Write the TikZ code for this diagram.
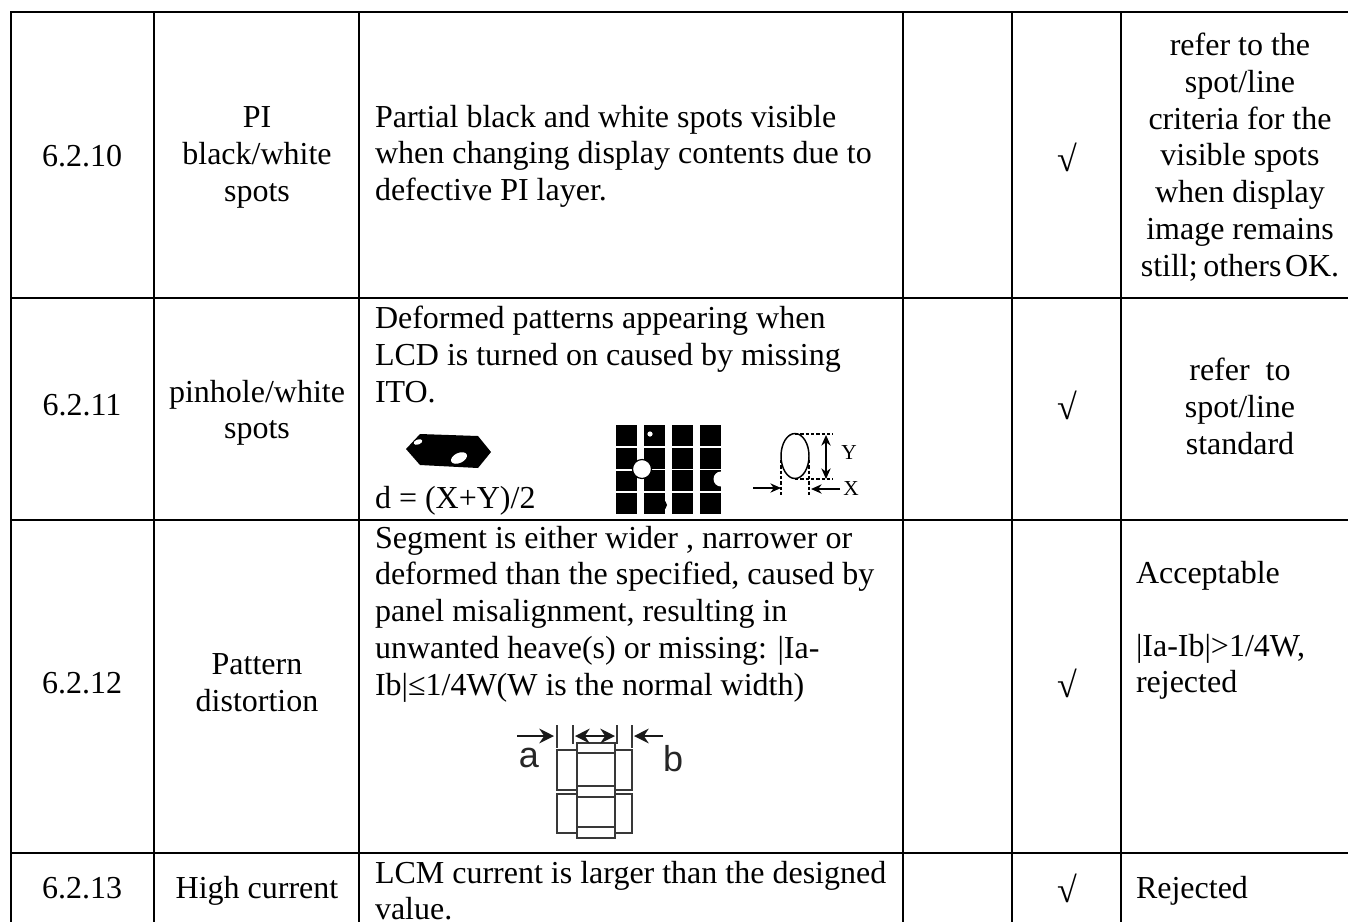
\documentclass[tikz,border=0pt]{standalone}
\usepackage{fontspec}
\setmainfont{Liberation Serif}
\newfontfamily\figsans{Liberation Sans}
\usetikzlibrary{arrows.meta}
\tikzset{
  rule/.style={line width=1.5pt,black},
  celltext/.style={inner sep=0pt,outer sep=0pt,font=\fontsize{24}{27.56}\selectfont,
    execute at begin node={\rule{0pt}{18pt}}},
  lefttext/.style={celltext,anchor=north west,align=left},
  midtext/.style={celltext,anchor=north,align=center},
  checkmark/.style={midtext,font=\fontsize{27}{27.56}\selectfont},
  figlabel/.style={inner sep=0pt,font=\fontsize{16}{18}\selectfont},
  seglabel/.style={inner sep=0pt,font=\figsans\fontsize{27}{28}\selectfont,black!85},
  segline/.style={line width=2.2pt,black!78},
  dimline/.style={line width=0.8pt,dashed,dash pattern=on 2.5pt off 1.5pt},
  dimarrow/.style={line width=0.9pt,-{Stealth[length=8pt,width=7pt]}},
  dimboth/.style={line width=0.9pt,{Stealth[length=8pt,width=7pt]}-{Stealth[length=8pt,width=7pt]}},
  segarrow/.style={line width=1.6pt,black!90,-{Stealth[length=11pt,width=11pt]}}
}
\begin{document}
\begin{tikzpicture}[x=0.75pt,y=-0.75pt]
\useasboundingbox (0,0) rectangle (1348,922);
% table rules
\draw[rule] (11,12) -- (1348,12);
\draw[rule] (11,298) -- (1348,298);
\draw[rule] (11,520) -- (1348,520);
\draw[rule] (11,853) -- (1348,853);
\foreach \vx in {11,154,359,903,1012,1121} \draw[rule] (\vx,11) -- (\vx,922);
% row 6.2.10
\node[midtext] (num10) at (82,142) {6.2.10};
\node[midtext] (name10) at (257,107) {PI\\black/white\\spots};
\node[lefttext] (desc10) at (375,105) {Partial black and white spots visible\\when changing display contents due to\\defective PI layer.};
\node[checkmark] (chk10) at (1067,143) {√};
\node[midtext] (std10) at (1240,33) {refer to the\\spot/line\\criteria for the\\visible spots\\when display\\image remains\\still;\hspace{4.2pt}others\hspace{2.6pt}OK.};
% row 6.2.11
\node[midtext] (num11) at (82,391) {6.2.11};
\node[midtext] (name11) at (257,380) {pinhole/white\\spots};
\node[lefttext] (desc11) at (375,306) {Deformed patterns appearing when\\LCD is turned on caused by missing\\ITO.};
\node[lefttext] (formula) at (375,484) {d = (X+Y)/2};
\node[checkmark] (chk11) at (1067,391) {√};
\node[midtext] (std11) at (1240,358) {refer\ \ to\\spot/line\\standard};
% row 6.2.12
\node[midtext] (num12) at (82,669) {6.2.12};
\node[midtext] (name12) at (257,654) {Pattern\\distortion};
\node[lefttext] (desc12) at (375,526) {Segment is either wider , narrower or\\deformed than the specified, caused by\\panel misalignment, resulting in\\unwanted heave(s) or missing: |Ia-\\Ib|≤1/4W(W is the normal width)};
\node[checkmark] (chk12) at (1067,669) {√};
\node[lefttext] (acc) at (1136,559) {Acceptable};
\node[lefttext] (rej12) at (1136,634) {|Ia-Ib|>1/4W,\\rejected};
% row 6.2.13
\node[midtext] (num13) at (82,874) {6.2.13};
\node[midtext] (name13) at (257,874) {High current};
\node[lefttext] (desc13) at (375,861) {LCM current is larger than the designed\\value.};
\node[checkmark] (chk13) at (1067,874) {√};
\node[lefttext] (rej13) at (1136,874) {Rejected};
% blob
\fill (406,449) -- (420,434) -- (478,436) -- (491,452) -- (478,468) -- (420,465) -- cycle;
\fill[white,rotate around={20:(418,442)}] (418,442) ellipse (4.5 and 2.5);
\fill[white,rotate around={25:(459,458)}] (459,458) ellipse (8.5 and 5);
% dotted grid
\foreach \cx in {616,644,672,700}
  \foreach \cy in {425,448,470,493}
    \fill (\cx,\cy) rectangle ++(21,20.5);
\fill[white] (650,434) circle (2.6);
\draw[white,line width=1.1pt] (616,447) -- (640,447) (616,470) -- (640,470);
\draw[black,fill=white,line width=0.9pt] (642,469) circle (9.5);
\fill[white] (721,479) circle (7.5);
\fill (662,505) circle (5);
% dimension sketch
\draw[line width=1.1pt] (795,456) ellipse (14 and 22.5);
\draw[dimline] (795,434) -- (833,434);
\draw[dimline] (795,479) -- (833,479);
\draw[dimline] (781,460) -- (781,496);
\draw[dimline] (809,460) -- (809,496);
\coordinate (ytop) at (826,435);
\coordinate (ybot) at (826,479);
\draw[dimboth] (ytop) -- (ybot);
\coordinate (xls) at (753,488);
\coordinate (xle) at (781,488);
\coordinate (xrs) at (840,489);
\coordinate (xre) at (811,489);
\draw[dimarrow] (xls) -- (xle);
\draw[dimarrow] (xrs) -- (xre);
\node[figlabel] (ylab) at (849,453) {Y};
\node[figlabel] (xlab) at (851,489) {X};
% segment sketch
\draw[segline] (557,750) rectangle (577,790);
\draw[segline] (557,794) rectangle (577,833);
\draw[segline] (615,750) rectangle (632,790);
\draw[segline] (615,794) rectangle (632,833);
\draw[segline] (577,743) rectangle (615,753);
\draw[segline] (577,786) rectangle (615,797);
\draw[segline] (577,827) rectangle (615,838);
\draw[segline] (557,725) -- (557,748);
\draw[segline] (573,725) -- (573,744);
\draw[segline] (617,725) -- (617,744);
\draw[segline] (632,725) -- (632,748);
\coordinate (al) at (517,736);
\coordinate (ar) at (554,736);
\coordinate (bl) at (663,736);
\coordinate (br) at (634,736);
\coordinate (cm) at (596,736);
\coordinate (cl) at (575,736);
\coordinate (cr) at (615,736);
\draw[segarrow] (al) -- (ar);
\draw[segarrow] (bl) -- (br);
\draw[segarrow] (cm) -- (cl);
\draw[segarrow] (cm) -- (cr);
\node[seglabel] (alab) at (529,758) {a};
\node[seglabel] (blab) at (673,759) {b};
\end{tikzpicture}
\end{document}
